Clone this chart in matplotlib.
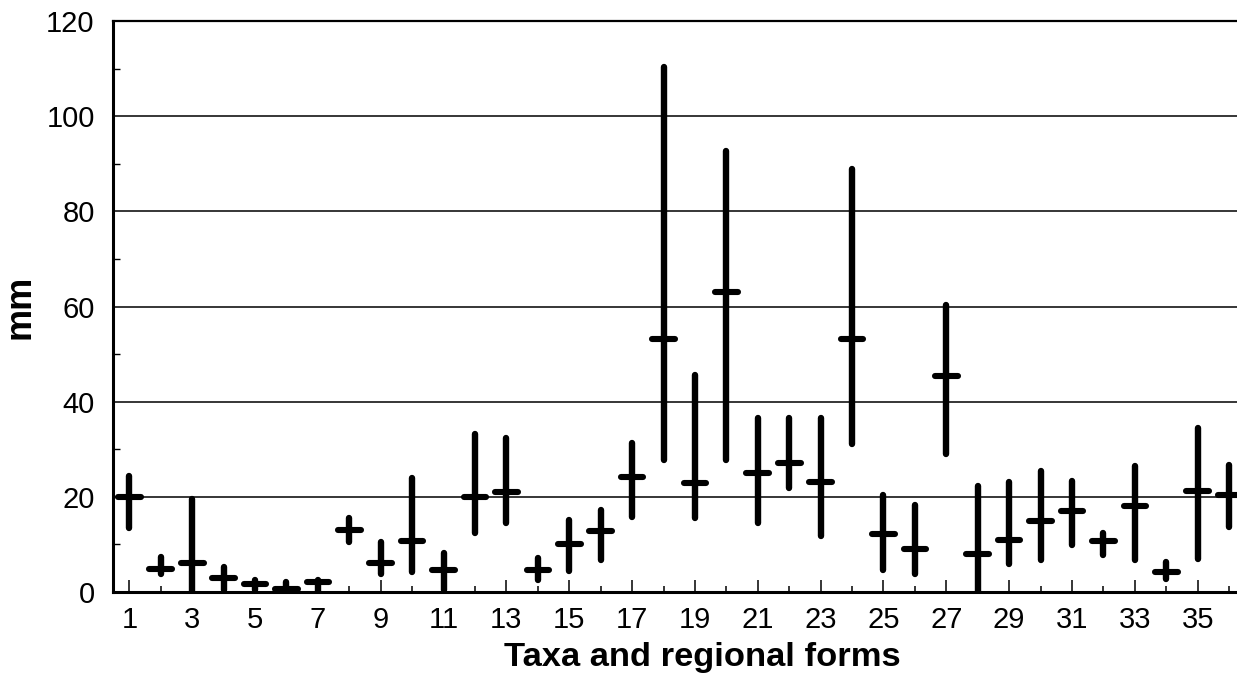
import matplotlib
matplotlib.use("Agg")
import matplotlib.pyplot as plt
from matplotlib.ticker import FixedLocator, MultipleLocator

plt.rcParams['font.family'] = ['Liberation Sans', 'DejaVu Sans']

taxa = list(range(1, 37))
low = [13.4, 3.7, 0.0, 0.4, 0.4, 0.0, 0.1, 10.6, 3.7, 4.2, 0.4, 12.4, 14.5, 2.5, 4.5, 6.7,
       15.7, 27.8, 15.6, 27.8, 14.5, 21.8, 11.8, 31.0, 4.6, 3.7, 29.1, 0.0, 5.8, 6.7, 9.9,
       7.7, 6.7, 2.8, 6.9, 13.7]
high = [24.4, 7.4, 19.6, 5.3, 2.6, 2.0, 2.6, 15.5, 10.5, 24.0, 8.1, 33.2, 32.3, 7.2, 15.2,
        17.3, 31.4, 110.4, 45.5, 92.6, 36.5, 36.5, 36.5, 88.8, 20.4, 18.2, 60.4, 22.2, 23.2,
        25.4, 23.4, 12.3, 26.4, 6.3, 34.5, 26.6]
mean = [20.0, 4.9, 6.0, 3.0, 1.6, 0.7, 2.1, 13.1, 6.1, 10.7, 4.7, 20.0, 21.0, 4.7, 10.0,
        12.9, 24.2, 53.1, 23.0, 63.1, 25.1, 27.2, 23.2, 53.2, 12.1, 9.0, 45.3, 7.9, 10.9,
        15.0, 17.1, 10.7, 18.1, 4.1, 21.3, 20.4]
xticklabels_shown = [str(i) for i in range(1, 37, 2)]

W, H = 1237, 674
fig = plt.figure(figsize=(W / 100, H / 100), dpi=100)
left_px, right_px, top_px, bottom_px = 112.7, 1237, 21, 592
ax = fig.add_axes([left_px / W, 1 - bottom_px / H, (right_px - left_px) / W,
                   (bottom_px - top_px) / H])

ax.set_xlim(0.47, 36.25)
ax.set_ylim(0, 120)

# grid lines
for g in range(20, 120, 20):
    ax.axhline(g, color='black', lw=1.1, zorder=1)

# range bars and means
ax.vlines(taxa, low, high, colors='black', lw=4.6, capstyle='round', zorder=3)
half = 0.36
ax.hlines(mean, [t - half for t in taxa], [t + half for t in taxa], colors='black',
          lw=4.4, capstyle='round', zorder=3)

# spines
ax.spines['right'].set_visible(False)
ax.spines['left'].set_linewidth(2.2)
ax.spines['bottom'].set_linewidth(2.2)
ax.spines['top'].set_linewidth(1.6)

# ticks
ax.yaxis.set_major_locator(MultipleLocator(20))
ax.yaxis.set_minor_locator(FixedLocator(list(range(10, 120, 20))))
ax.tick_params(axis='y', which='major', direction='in', length=0, pad=13, labelsize=21)
ax.tick_params(axis='y', which='minor', direction='in', length=5, width=1.0)

ax.xaxis.set_major_locator(FixedLocator(list(range(1, 37, 2))))
ax.set_xticklabels(xticklabels_shown)
ax.xaxis.set_minor_locator(FixedLocator(list(range(2, 37, 2))))
ax.tick_params(axis='x', which='major', direction='in', length=8.6, width=1.1, pad=10,
               labelsize=21)
ax.tick_params(axis='x', which='minor', direction='in', length=4.3, width=1.1)

ax.set_xlabel('Taxa and regional forms', fontsize=24.8, fontweight='bold', va='top')
ax.xaxis.set_label_coords((702 - left_px) / (right_px - left_px), -0.088)
ax.set_ylabel('mm', fontsize=26, fontweight='bold')
ax.yaxis.set_label_coords(-(left_px - 38) / (right_px - left_px), 0.5)

fig.savefig('out.png', dpi=100)
